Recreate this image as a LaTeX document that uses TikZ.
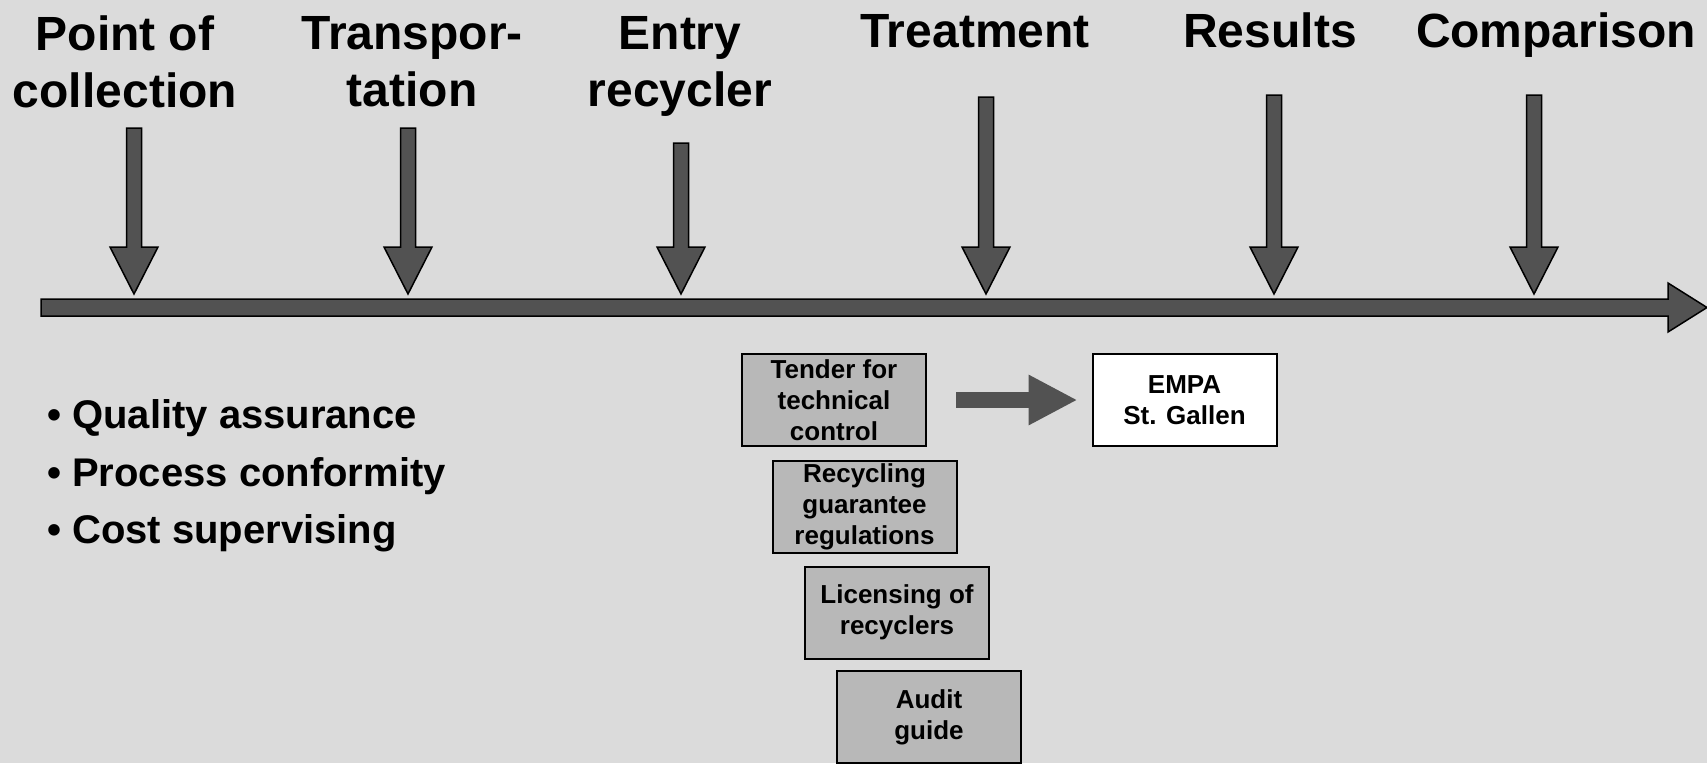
\documentclass[tikz,border=0pt]{standalone}
\usepackage{fontspec}
\setmainfont{Liberation Sans}
\usetikzlibrary{arrows.meta}
\definecolor{bgc}{gray}{0.86}
\definecolor{arrc}{gray}{0.32}
\definecolor{boxc}{gray}{0.72}
\newcommand\DnArrow[2]{\filldraw[arrowshape] (#1-7.5,#2) -- (#1+7.5,#2) -- (#1+7.5,247) -- (#1+24,247) -- (#1,294) -- (#1-24,247) -- (#1-7.5,247) -- cycle;}
\begin{document}
\begin{tikzpicture}[x=1pt,y=-1pt,
  arrowshape/.style={fill=arrc, draw=black, line width=1.5pt, line join=miter},
  head/.style={font=\fontsize{48}{57}\selectfont\bfseries, inner sep=0pt, align=center},
  bul/.style={font=\fontsize{40}{48}\selectfont\bfseries, inner sep=0pt, anchor=base west},
  boxn/.style={draw=black, line width=2pt, fill=boxc, minimum width=184pt, minimum height=92pt, inner sep=0pt, align=center, font=\fontsize{26}{31}\selectfont\bfseries},
  conn/.style={arrc, line width=16pt, -{Triangle[length=49pt,width=47pt]}, shorten <=29pt, shorten >=14pt}]
\useasboundingbox (0,0) rectangle (1707,763);
\fill[bgc] (0,0) rectangle (1707,763);
% headers
\node[head, anchor=north] (h1) at (125,16) {Point of\\collection};
\node[head, anchor=north] (h2) at (412,16) {Transpor-\\tation};
\node[head, anchor=north] (h3) at (680,16) {Entry\\recycler};
\node[head, anchor=base] (h4) at (975,47) {Treatment};
\node[head, anchor=base] (h5) at (1270,47) {Results};
\node[head, anchor=base] (h6) at (1556,47) {Comparison};
% down arrows
\DnArrow{134}{128}
\DnArrow{408}{128}
\DnArrow{681}{143}
\DnArrow{986}{97}
\DnArrow{1274}{95}
\DnArrow{1534}{95}
% timeline
\filldraw[arrowshape] (41,299) -- (1668,299) -- (1668,283) -- (1707,307.5) -- (1668,332) -- (1668,316) -- (41,316) -- cycle;
% bullets
\node[bul] (q1) at (47,428) {• Quality assurance};
\node[bul] (q2) at (47,486) {• Process conformity};
\node[bul] (q3) at (47,543) {• Cost supervising};
% boxes
\node[boxn] (tender) at (834,400) {Tender for\\technical\\control};
\node[boxn] (recyc) at (864.5,506.5) {Recycling\\guarantee\\regulations};
\node[boxn] (licen) at (897,612.5) {Licensing of\\recyclers};
\node[boxn] (audit) at (929,717) {Audit\\guide};
\node[boxn, fill=white] (empa) at (1184.5,400) {EMPA\\St. Gallen};
\draw[conn] (tender) -- (empa);
\end{tikzpicture}
\end{document}
